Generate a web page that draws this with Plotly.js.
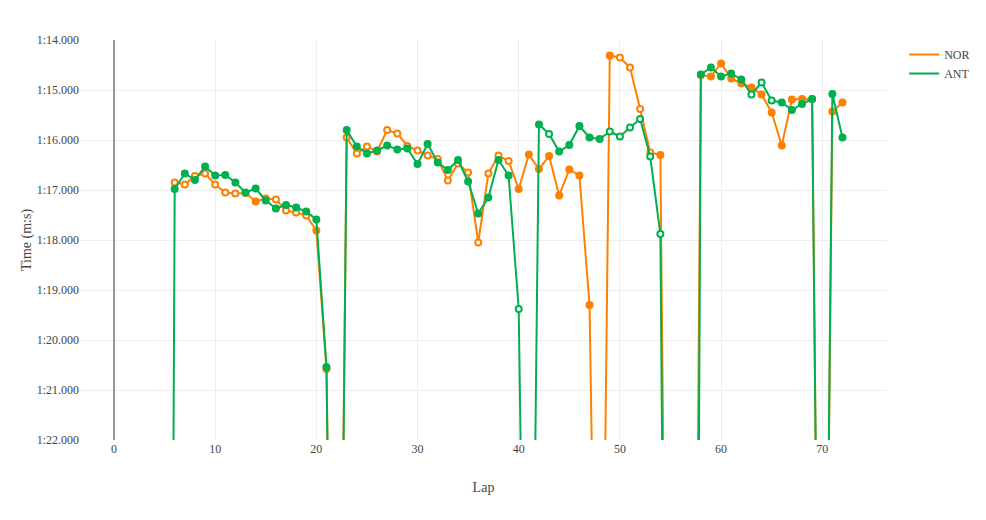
<!DOCTYPE html>
<html>
<head>
<meta charset="utf-8">
<script src="https://cdn.plot.ly/plotly-3.0.1.min.js"></script>
<style>
  html, body { margin: 0; padding: 0; background: #fff; }
  #plot { width: 986px; height: 520px; }
</style>
</head>
<body>
<div id="plot"></div>
<script>
// lap numbers (laps 5..72), times in seconds
var laps = [];
for (var i = 5; i <= 72; i++) laps.push(i);

var norTimes = [
  null,
  76.85, 76.89, 76.72, 76.67, 76.89, 77.05, 77.07, 77.06, 77.23, 77.17,
  77.19, 77.41, 77.45, 77.51, 77.81, 80.58, 95.0, 75.95, 76.27, 76.13,
  76.23, 75.80, 75.87, 76.12, 76.21, 76.31, 76.38, 76.81, 76.47, 76.65,
  78.05, 76.67, 76.31, 76.42, 76.98, 76.29, 76.58, 76.32, 77.11, 76.59,
  76.71, 79.30, 92.0, 74.31, 74.35, 74.55, 75.38, 76.25, 76.30, 97.0,
  105.0, 100.6, 74.70, 74.73, 74.47, 74.77, 74.87, 74.95, 75.09, 75.45,
  76.11, 75.19, 75.18, 75.18, 95.0, 75.43, 75.25
];
// 1 = hollow marker, 0 = filled
var norHollow = [
  0,
  1, 1, 1, 1, 1, 1, 1, 1, 0, 0,
  1, 1, 1, 1, 0, 0, 0, 1, 1, 1,
  1, 1, 1, 1, 1, 1, 1, 1, 1, 1,
  1, 1, 1, 1, 0, 0, 0, 0, 0, 0,
  0, 0, 0, 0, 1, 1, 1, 1, 0, 0,
  0, 0, 0, 0, 0, 0, 0, 0, 0, 0,
  0, 0, 0, 0, 0, 0, 0
];

var antTimes = [
  120.0,
  76.98, 76.67, 76.80, 76.53, 76.71, 76.70, 76.85, 77.05, 76.97, 77.21,
  77.37, 77.30, 77.35, 77.43, 77.59, 80.54, 96.0, 75.80, 76.13, 76.27,
  76.21, 76.11, 76.19, 76.17, 76.48, 76.08, 76.45, 76.60, 76.40, 76.83,
  77.47, 77.15, 76.40, 76.71, 79.38, 93.5, 75.69, 75.88, 76.23, 76.10,
  75.72, 75.95, 75.98, 75.83, 75.93, 75.75, 75.58, 76.33, 77.88, 102.0,
  110.0, 115.0, 74.69, 74.55, 74.73, 74.67, 74.79, 75.09, 74.85, 75.21,
  75.25, 75.40, 75.28, 75.18, 95.0, 75.08, 75.95
];
var antHollow = [
  0,
  0, 0, 0, 0, 0, 0, 0, 0, 0, 0,
  0, 0, 0, 0, 0, 0, 0, 0, 0, 0,
  0, 0, 0, 0, 0, 0, 0, 0, 0, 0,
  0, 0, 0, 0, 1, 0, 0, 1, 0, 0,
  0, 0, 0, 1, 1, 1, 1, 1, 1, 0,
  0, 0, 0, 0, 0, 0, 0, 1, 1, 1,
  0, 0, 0, 0, 0, 0, 0
];

var yTickVals = [74, 75, 76, 77, 78, 79, 80, 81, 82];
var yTickText = ['1:14.000', '1:15.000', '1:16.000', '1:17.000', '1:18.000',
                 '1:19.000', '1:20.000', '1:21.000', '1:22.000'];

var NOR_COLOR = '#ff8000';
var ANT_COLOR = '#00b050';

function makeTrace(name, y, hollow, color) {
  return {
    x: laps,
    y: y,
    name: name,
    showlegend: false,
    mode: 'lines+markers',
    type: 'scatter',
    line: {color: color, width: 2},
    marker: {
      size: 6,
      color: hollow.map(function(h) { return h ? '#ffffff' : color; }),
      line: {color: color, width: 2}
    }
  };
}

// legend-only entries (line swatch without marker)
function legendEntry(name, color) {
  return {
    x: [null],
    y: [null],
    name: name,
    mode: 'lines',
    type: 'scatter',
    line: {color: color, width: 2}
  };
}

var data = [
  makeTrace('NOR', norTimes, norHollow, NOR_COLOR),
  makeTrace('ANT', antTimes, antHollow, ANT_COLOR),
  legendEntry('NOR', NOR_COLOR),
  legendEntry('ANT', ANT_COLOR)
];

var layout = {
  width: 986,
  height: 520,
  margin: {l: 80, r: 98, t: 40, b: 80},
  paper_bgcolor: '#fff',
  plot_bgcolor: '#fff',
  font: {family: '"Liberation Serif", "Times New Roman", serif', size: 12, color: '#444'},
  showlegend: true,
  legend: {x: 1.02, y: 1, font: {size: 12}},
  xaxis: {
    title: {text: 'Lap', font: {size: 14}},
    range: [-3.36, 76.4],
    tickvals: [0, 10, 20, 30, 40, 50, 60, 70],
    gridcolor: '#eeeeee',
    zeroline: true,
    zerolinecolor: '#999999',
    zerolinewidth: 1.5,
    showline: false
  },
  yaxis: {
    title: {text: 'Time (m:s)', font: {size: 14}},
    range: [82, 74],
    tickvals: yTickVals,
    ticktext: yTickText,
    gridcolor: '#eeeeee',
    zeroline: false,
    showline: false
  }
};

Plotly.newPlot('plot', data, layout, {displayModeBar: false, staticPlot: true});
</script>
</body>
</html>
